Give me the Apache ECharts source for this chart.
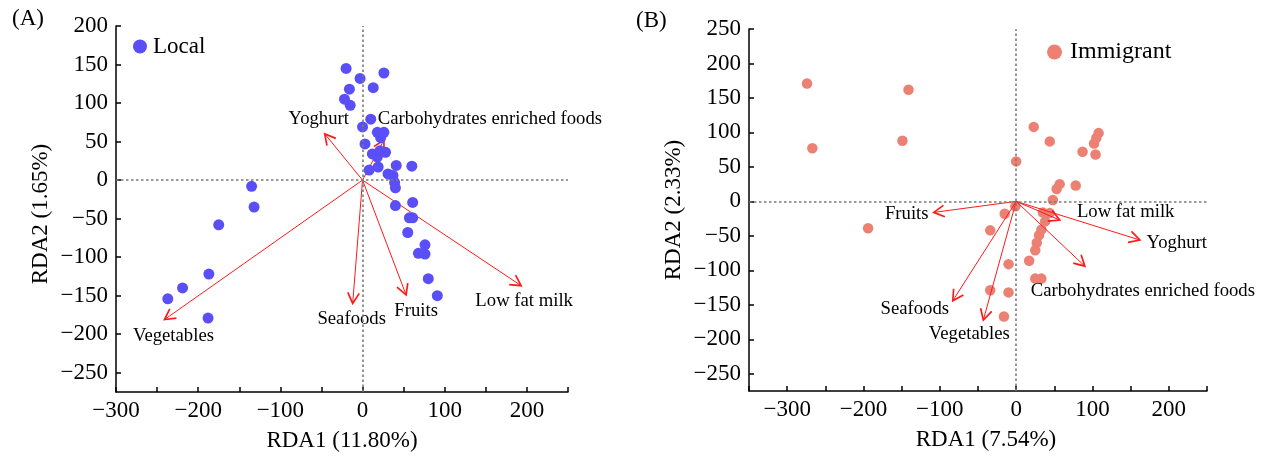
<!DOCTYPE html>
<html>
<head>
<meta charset="utf-8">
<script src="https://cdn.jsdelivr.net/npm/echarts@6/dist/echarts.min.js"></script>
<style>
  html, body { margin: 0; padding: 0; background: #fff; }
  #chart { width: 1265px; height: 458px; }
</style>
</head>
<body>
<div id="chart"></div>
<script>
// RDA site scores (RDA1, RDA2) for each participant
const localScores = [
  [-20, 145], [-3, 132], [26, 139], [13, 120], [-16, 118], [-22, 105], [-15, 97],
  [10, 79], [0, 69], [18, 62], [26, 62], [22, 55], [3, 47], [28, 36], [12, 34],
  [18, 30], [21, 38], [8, 13], [19, 17], [41, 19], [60, 18], [31, 8], [37, 6],
  [39, -3], [40, -10], [40, -33], [61, -29], [57, -49], [61, -49], [55, -68],
  [76, -84], [68, -95], [76, -96], [80, -128], [91, -150],
  [-135, -8], [-132, -35], [-175, -58], [-187, -122], [-219, -140], [-237, -154], [-188, -179]
];
const immigrantScores = [
  [-274, 171], [-267, 77], [-141, 162], [-149, 88], [-194, -39],
  [23, 108], [44, 87], [108, 99], [105, 92], [102, 84], [87, 72], [104, 68],
  [0, 58], [57, 25], [53, 18], [78, 23], [48, 2], [-1, -7], [-15, -18],
  [35, -16], [44, -17], [38, -29], [33, -41], [30, -49], [27, -60], [25, -71],
  [17, -86], [-34, -42], [-10, -91], [25, -112], [33, -112], [-34, -129],
  [-10, -132], [-16, -167]
];

// Food-group loadings (arrow tips)
const foodGroups = ['Yoghurt', 'Carbohydrates enriched foods', 'Vegetables', 'Seafoods', 'Fruits', 'Low fat milk'];
const localLoadings = [[-46, 60], [26, 52], [-241, -181], [-12, -160], [53, -149], [193, -137]];
const immigrantLoadings = [[162, -56], [90, -94], [-43, -172], [-83, -144], [-108, -16], [57, -27]];

// Axis ticks and labels
const xTicksA = [-300, -250, -200, -150, -100, -50, 0, 50, 100, 150, 200, 250];
const xLabelsA = [-300, -200, -100, 0, 100, 200];
const yTicksA = [-250, -200, -150, -100, -50, 0, 50, 100, 150, 200];
const xTicksB = [-350, -300, -250, -200, -150, -100, -50, 0, 50, 100, 150, 200, 250];
const xLabelsB = [-300, -200, -100, 0, 100, 200];
const yTicksB = [-250, -200, -150, -100, -50, 0, 50, 100, 150, 200, 250];

// Pixel offsets of each loading label from its arrow tip
const labelShiftA = [[-6, -15], [106, -21], [9, 17], [-1, 16], [10, 16], [3, 15]];
const labelShiftB = [[37, 3], [58, 25], [-14, 14], [-38, 8], [-27, 2], [66, -8]];

const FONT = '"Liberation Serif", "Times New Roman", serif';
const ARROW = '#ff1a1a';

function fmt(v) { return v < 0 ? '\u2212' + Math.abs(v) : String(v); }

function valueAxis(gridIndex, min, max, ticks, labels, name, isY, namePad) {
  return {
    type: 'value', gridIndex, min, max,
    name, nameLocation: 'middle', nameGap: isY ? 64 : 37,
    nameTextStyle: { fontFamily: FONT, fontSize: 23, color: '#000', padding: namePad || 0 },
    axisLine: { show: true, onZero: false, lineStyle: { color: '#000', width: 1.5 } },
    axisTick: { show: true, inside: true, length: 5, customValues: ticks, lineStyle: { color: '#000', width: 1.5 } },
    axisLabel: { customValues: labels, formatter: fmt, fontFamily: FONT, fontSize: 23, color: '#000', margin: isY ? 8 : 7 },
    splitLine: { show: false }
  };
}

function arrowSeries(gridIndex, loadings, shifts, z) {
  return {
    type: 'custom', xAxisIndex: gridIndex, yAxisIndex: gridIndex, z, silent: true,
    data: loadings, encode: { x: 0, y: 1 },
    renderItem(params, api) {
      const o = api.coord([0, 0]);
      const t = api.coord([api.value(0), api.value(1)]);
      const ang = Math.atan2(t[1] - o[1], t[0] - o[0]);
      const L = 12, a = 0.5;
      const p1 = [t[0] - L * Math.cos(ang - a), t[1] - L * Math.sin(ang - a)];
      const p2 = [t[0] - L * Math.cos(ang + a), t[1] - L * Math.sin(ang + a)];
      const s = shifts[params.dataIndex];
      return {
        type: 'group',
        children: [
          { type: 'line', shape: { x1: o[0], y1: o[1], x2: t[0], y2: t[1] }, style: { stroke: ARROW, lineWidth: 1 } },
          { type: 'polyline', shape: { points: [p1, t, p2] }, style: { stroke: ARROW, lineWidth: 1.7, fill: null } },
          { type: 'text', style: { x: t[0] + s[0], y: t[1] + s[1], text: foodGroups[params.dataIndex],
              align: 'center', verticalAlign: 'middle', font: '18.7px ' + FONT, fill: '#000' } }
        ]
      };
    }
  };
}

function zeroLines(gridIndex) {
  return {
    type: 'scatter', xAxisIndex: gridIndex, yAxisIndex: gridIndex, data: [], z: 1, silent: true,
    markLine: {
      silent: true, symbol: 'none', label: { show: false },
      lineStyle: { color: '#7a7a7a', type: [2.5, 2.5], width: 1.6 },
      data: [{ xAxis: 0 }, { yAxis: 0 }]
    }
  };
}

const chart = echarts.init(document.getElementById('chart'), null, { renderer: 'canvas' });
chart.setOption({
  animation: false,
  backgroundColor: '#fff',
  title: [
    { text: '(A)', left: 12, top: 7, padding: 0, textStyle: { fontFamily: FONT, fontSize: 23, fontWeight: 'normal', color: '#000' } },
    { text: '(B)', left: 636, top: 9, padding: 0, textStyle: { fontFamily: FONT, fontSize: 23, fontWeight: 'normal', color: '#000' } }
  ],
  legend: [
    { data: ['Local'], left: 133, top: 35, padding: 0, icon: 'circle', itemWidth: 14, itemHeight: 14, itemGap: 0,
      textStyle: { fontFamily: FONT, fontSize: 23, color: '#000', padding: [0, 0, 0, 1] } },
    { data: ['Immigrant'], left: 1047, top: 40, padding: 0, icon: 'circle', itemWidth: 15, itemHeight: 15, itemGap: 0,
      textStyle: { fontFamily: FONT, fontSize: 24, color: '#000', padding: [0, 0, 0, 3] } }
  ],
  grid: [
    { left: 116, top: 26, width: 452, height: 366 },
    { left: 749, top: 29, width: 458, height: 362 }
  ],
  xAxis: [
    valueAxis(0, -300, 250, xTicksA, xLabelsA, 'RDA1 (11.80%)', false),
    valueAxis(1, -350, 250, xTicksB, xLabelsB, 'RDA1 (7.54%)', false, [0, 0, 0, 16])
  ],
  yAxis: [
    valueAxis(0, -275, 200, yTicksA, yTicksA, 'RDA2 (1.65%)', true, [0, 10, 0, 0]),
    valueAxis(1, -275, 250, yTicksB, yTicksB, 'RDA2 (2.33%)', true)
  ],
  series: [
    zeroLines(0),
    zeroLines(1),
    arrowSeries(0, localLoadings, labelShiftA, 2),
    { name: 'Local', type: 'scatter', xAxisIndex: 0, yAxisIndex: 0, z: 3, symbolSize: 11,
      itemStyle: { color: '#5a4ff7', opacity: 1 }, data: localScores },
    { name: 'Immigrant', type: 'scatter', xAxisIndex: 1, yAxisIndex: 1, z: 2, symbolSize: 10.5,
      itemStyle: { color: '#ec8072', opacity: 1 }, data: immigrantScores },
    arrowSeries(1, immigrantLoadings, labelShiftB, 3)
  ]
});
</script>
</body>
</html>
